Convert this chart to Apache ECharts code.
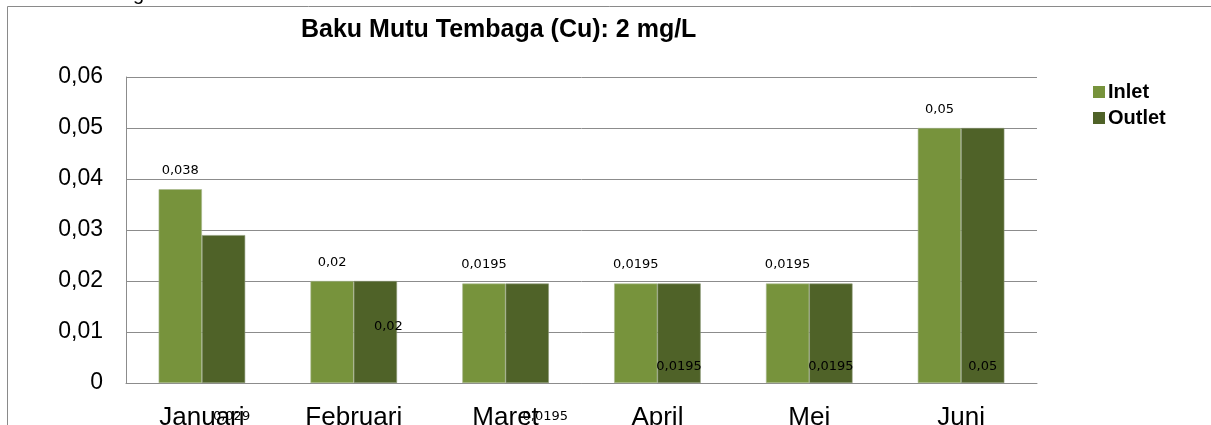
<!DOCTYPE html>
<html>
<head>
<meta charset="utf-8">
<script src="https://cdn.jsdelivr.net/npm/echarts@6/dist/echarts.min.js"></script>
<style>
	html, body { margin: 0; padding: 0; background: #fff; }
	#chart { width: 1211px; height: 425px; }
</style>
</head>
<body>
<div id="chart"></div>
<script>
// values
const months = ['Januari', 'Februari', 'Maret', 'April', 'Mei', 'Juni'];
const inlet = [0.038, 0.02, 0.0195, 0.0195, 0.0195, 0.05];
const outlet = [0.029, 0.02, 0.0195, 0.0195, 0.0195, 0.05];
const yTicks = [0, 0.01, 0.02, 0.03, 0.04, 0.05, 0.06];

// the outlet labels were dragged around by hand in the original, nudge them the same way
const outletNudge = [[8, 50], [13, -40], [18, 50], [0, 0], [0, 0], [0, 0]];

const INLET_COLOR = '#77933c';
const OUTLET_COLOR = '#4f6228';
const GRID_COLOR = '#8c8c8c';

const fmt = (v) => String(v).replace('.', ',');

const myChart = echarts.init(document.getElementById('chart'));

const option = {
	backgroundColor: '#fff',
	animation: false,
	title: {
		text: 'Baku Mutu Tembaga (Cu): 2 mg/L',
		left: 296,
		top: 13,
		textStyle: { fontFamily: 'Liberation Sans, Arial', fontWeight: 'bold', fontSize: 25, color: '#000' }
	},
	legend: {
		orient: 'vertical',
		left: 1088,
		top: 77,
		itemWidth: 12,
		itemHeight: 12,
		itemGap: 6,
		icon: 'rect',
		itemStyle: { borderWidth: 0 },
		textStyle: { fontFamily: 'Liberation Sans, Arial', fontWeight: 'bold', fontSize: 20, color: '#000', padding: [0, 0, 0, -2] },
		data: ['Inlet', 'Outlet']
	},
	grid: { left: 126, right: 174, top: 77, bottom: 42, containLabel: false, outerBoundsMode: 'none' },
	xAxis: {
		type: 'category',
		data: months,
		axisTick: { show: false },
		axisLine: { lineStyle: { color: GRID_COLOR, width: 1 } },
		axisLabel: { margin: 22, fontFamily: 'Liberation Sans, Arial', fontSize: 26, color: '#000' }
	},
	yAxis: {
		type: 'value',
		min: yTicks[0],
		max: yTicks[yTicks.length - 1],
		interval: yTicks[1] - yTicks[0],
		axisLine: { show: true, lineStyle: { color: GRID_COLOR, width: 1 } },
		axisTick: { show: false },
		splitLine: { lineStyle: { color: GRID_COLOR, width: 1 } },
		axisLabel: {
			margin: 23,
			fontFamily: 'Liberation Sans, Arial',
			fontSize: 23,
			color: '#000',
			formatter: (v) => (v === 0 ? '0' : v.toFixed(2).replace('.', ','))
		}
	},
	series: [
		{
			name: 'Inlet',
			type: 'bar',
			barGap: '0%',
			barCategoryGap: '43%',
			itemStyle: { color: INLET_COLOR, borderColor: '#a9b98f', borderWidth: 0.6 },
			label: {
				show: true,
				position: 'top',
				distance: 12,
				fontFamily: 'DejaVu Sans',
				fontSize: 13,
				color: '#000',
				formatter: (p) => fmt(p.value)
			},
			data: inlet
		},
		{
			name: 'Outlet',
			type: 'bar',
			itemStyle: { color: OUTLET_COLOR, borderColor: '#8d9a78', borderWidth: 0.6 },
			data: outlet.map((v, i) => ({
				value: v,
				label: {
					show: true,
					position: 'insideBottom',
					distance: 10,
					offset: outletNudge[i],
					fontFamily: 'DejaVu Sans',
					fontSize: 13,
					color: '#000',
					formatter: (p) => fmt(p.value)
				}
			}))
		}
	],
	graphic: [
		{
			type: 'rect',
			shape: { x: 7.5, y: 6.5, width: 1260, height: 460 },
			style: { fill: 'none', stroke: '#8a8a8a', lineWidth: 1 },
			silent: true,
			z: -1
		},
		{
			// caption of the page above the chart, only its bottom edge is in the shot
			type: 'text',
			left: 14,
			top: -16,
			style: { text: 'Grafik Tembaga.', fontFamily: 'Liberation Sans, Arial', fontSize: 20, fill: '#000' },
			silent: true
		}
	]
};

myChart.setOption(option);
window.onresize = () => {
	myChart.resize();
};
</script>
</body>
</html>
